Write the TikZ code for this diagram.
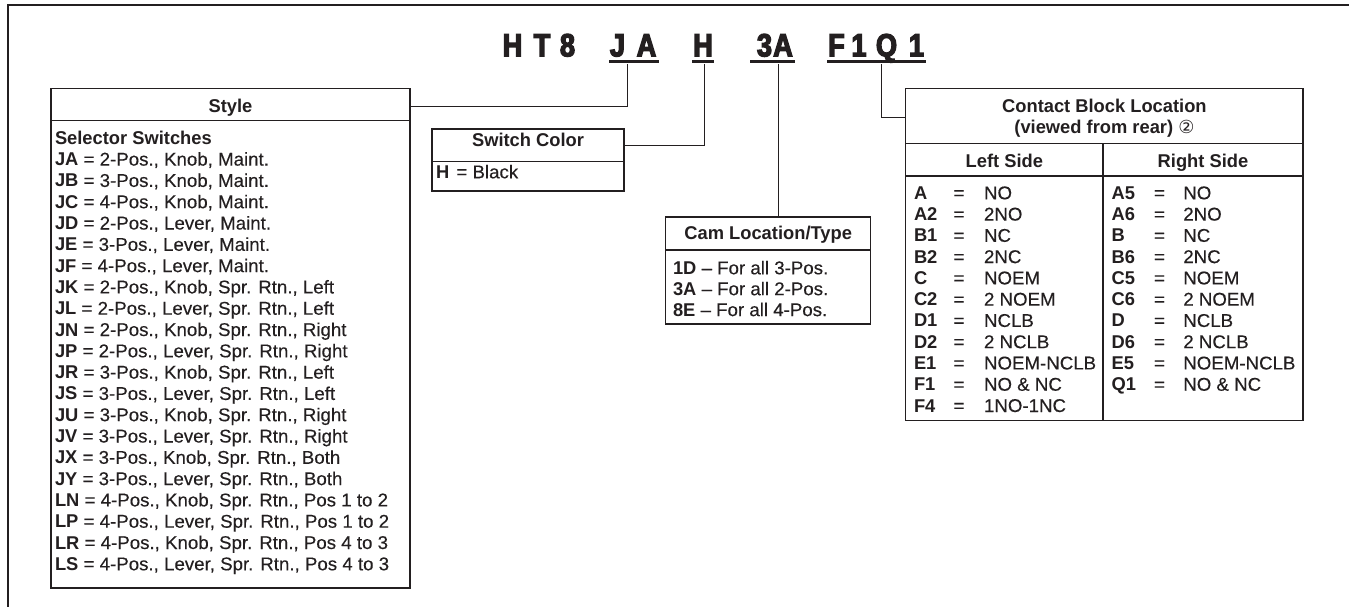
\documentclass[tikz,border=0pt]{standalone}
\usepackage{fontspec}
\setmainfont{Liberation Sans}[UprightFeatures={FakeStretch=1.01, FakeBold=0.3}, BoldFeatures={FakeStretch=0.99}]
\newfontfamily\codefont{Liberation Sans}[FakeStretch=0.85, FakeBold=4]
\newfontfamily\symfont{DejaVu Sans}
\definecolor{ink}{HTML}{231F20}
\newcommand\mysz{\fontsize{18.5}{20}\selectfont}
\begin{document}
\begin{tikzpicture}[x=1pt,y=-1pt,
  every node/.style={inner sep=0pt, outer sep=0pt, text=ink, font=\mysz},
  box/.style={draw=ink, line width=1.3pt, anchor=north west, rectangle},
  conn/.style={draw=ink, line width=1pt},
  frame/.style={draw=ink, line width=1.5pt},
  uline/.style={draw=ink, line width=3pt},
  lbl/.style={anchor=base west},
  blbl/.style={anchor=base west, font=\mysz\bfseries},
  eqs/.style={anchor=base},
  hdr/.style={anchor=base, font=\mysz\bfseries},
  code/.style={anchor=base, font=\codefont\fontsize{32}{36}\selectfont\bfseries}]
\useasboundingbox (0,0) rectangle (1349,607);

% outer frame
\draw[frame] (1349,5) -- (8,5) -- (8,607);

% code letters
\foreach \ch/\x [count=\i] in {H/512.5, T/542, 8/567.5, J/617.5, A/646.5, H/703, 3/764.5, A/783, F/836.5, 1/859, Q/886.5, 1/916.5}
  \node[code] (k\i) at (\x,56.3) {\ch};
\draw[uline] (609,61.3) -- (659,61.3);
\draw[uline] (692,61.3) -- (714,61.3);
\draw[uline] (750,61.3) -- (795,61.3);
\draw[uline] (827,61.3) -- (926,61.3);

% Style box
\node[box, minimum width=359pt, minimum height=32pt] (styleH) at (51,88.5) {};
\node[box, minimum width=359pt, minimum height=467.5pt] (styleB) at (51,120.5) {};
\node[hdr] (styleT) at (230.5,112.5) {Style};
\node[blbl] (sr0) at (55,144.3) {Selector Switches};
\foreach \a/\b [count=\i] in {
  JA/{2-Pos., Knob, Maint.},
  JB/{3-Pos., Knob, Maint.},
  JC/{4-Pos., Knob, Maint.},
  JD/{2-Pos., Lever, Maint.},
  JE/{3-Pos., Lever, Maint.},
  JF/{4-Pos., Lever, Maint.},
  JK/{2-Pos., Knob, Spr. Rtn., Left},
  JL/{2-Pos., Lever, Spr. Rtn., Left},
  JN/{2-Pos., Knob, Spr. Rtn., Right},
  JP/{2-Pos., Lever, Spr. Rtn., Right},
  JR/{3-Pos., Knob, Spr. Rtn., Left},
  JS/{3-Pos., Lever, Spr. Rtn., Left},
  JU/{3-Pos., Knob, Spr. Rtn., Right},
  JV/{3-Pos., Lever, Spr. Rtn., Right},
  JX/{3-Pos., Knob, Spr. Rtn., Both},
  JY/{3-Pos., Lever, Spr. Rtn., Both},
  LN/{4-Pos., Knob, Spr. Rtn., Pos 1 to 2},
  LP/{4-Pos., Lever, Spr. Rtn., Pos 1 to 2},
  LR/{4-Pos., Knob, Spr. Rtn., Pos 4 to 3},
  LS/{4-Pos., Lever, Spr. Rtn., Pos 4 to 3}} {
  \pgfmathsetmacro\yy{144.3+21.3*\i}
  \node[lbl] (sr\i) at (55,\yy) {\textbf{\a} = \b};
}

% Switch Color box
\node[box, minimum width=192pt, minimum height=32.7pt] (swH) at (432,129) {};
\node[box, minimum width=192pt, minimum height=29.3pt] (swB) at (432,161.7) {};
\node[hdr] (swT) at (528,146.7) {Switch Color};
\node[lbl] (sw1) at (436,178.3) {\textbf{H}\hspace{2pt} = Black};

% Cam box
\node[box, minimum width=205pt, minimum height=33pt] (camH) at (665.7,217) {};
\node[box, minimum width=205pt, minimum height=74pt] (camB) at (665.7,250) {};
\node[hdr] (camT) at (768.2,239.5) {Cam Location/Type};
\foreach \a/\b [count=\i] in {1D/3, 3A/2, 8E/4} {
  \pgfmathsetmacro\yy{274.3+20.9*(\i-1)}
  \node[lbl] (cam\i) at (673,\yy) {\textbf{\a} -- For all \b-Pos.};
}

% Contact block box
\node[box, minimum width=397.3pt, minimum height=55pt] (ctH) at (905.7,88.3) {};
\node[box, minimum width=197.3pt, minimum height=32.7pt] (ctLH) at (905.7,143.3) {};
\node[box, minimum width=200pt, minimum height=32.7pt] (ctRH) at (1103,143.3) {};
\node[box, minimum width=197.3pt, minimum height=244.7pt] (ctLB) at (905.7,176) {};
\node[box, minimum width=200pt, minimum height=244.7pt] (ctRB) at (1103,176) {};
\node[hdr] (ctT1) at (1104.4,112.3) {Contact Block Location};
\node[hdr] (ctT2) at (1104.4,133.3) {(viewed from rear) {\symfont\mdseries\fontsize{18}{18}\selectfont ②}};
\node[hdr] (ctLT) at (1004.4,167.3) {Left Side};
\node[hdr] (ctRT) at (1203,167.3) {Right Side};
\foreach \a/\b [count=\i] in {A/NO, A2/2NO, B1/NC, B2/2NC, C/NOEM, C2/2 NOEM, D1/NCLB, D2/2 NCLB, E1/NOEM-NCLB, F1/NO \& NC, F4/1NO-1NC} {
  \pgfmathsetmacro\yy{199.3+21.27*(\i-1)}
  \node[blbl] (cl\i) at (914,\yy) {\a};
  \node[eqs] (ce\i) at (959,\yy) {=};
  \node[lbl] (cv\i) at (984,\yy) {\b};
}
\foreach \a/\b [count=\i] in {A5/NO, A6/2NO, B/NC, B6/2NC, C5/NOEM, C6/2 NOEM, D/NCLB, D6/2 NCLB, E5/NOEM-NCLB, Q1/NO \& NC} {
  \pgfmathsetmacro\yy{199.3+21.27*(\i-1)}
  \node[blbl] (rl\i) at (1111.7,\yy) {\a};
  \node[eqs] (re\i) at (1159.5,\yy) {=};
  \node[lbl] (rv\i) at (1183.3,\yy) {\b};
}

% connectors
\coordinate (cJA) at (627.7,64);
\coordinate (cH) at (704,64);
\coordinate (c3A) at (778,64);
\coordinate (cF) at (881.7,64);
\draw[conn] (cJA) |- ([yshift=-2.2pt]styleH.east);
\draw[conn] (cH) |- (swH.east);
\draw[conn] (c3A) -- (c3A |- camH.north);
\draw[conn] (cF) |- ([yshift=-2.2pt]ctH.west);
\end{tikzpicture}
\end{document}
